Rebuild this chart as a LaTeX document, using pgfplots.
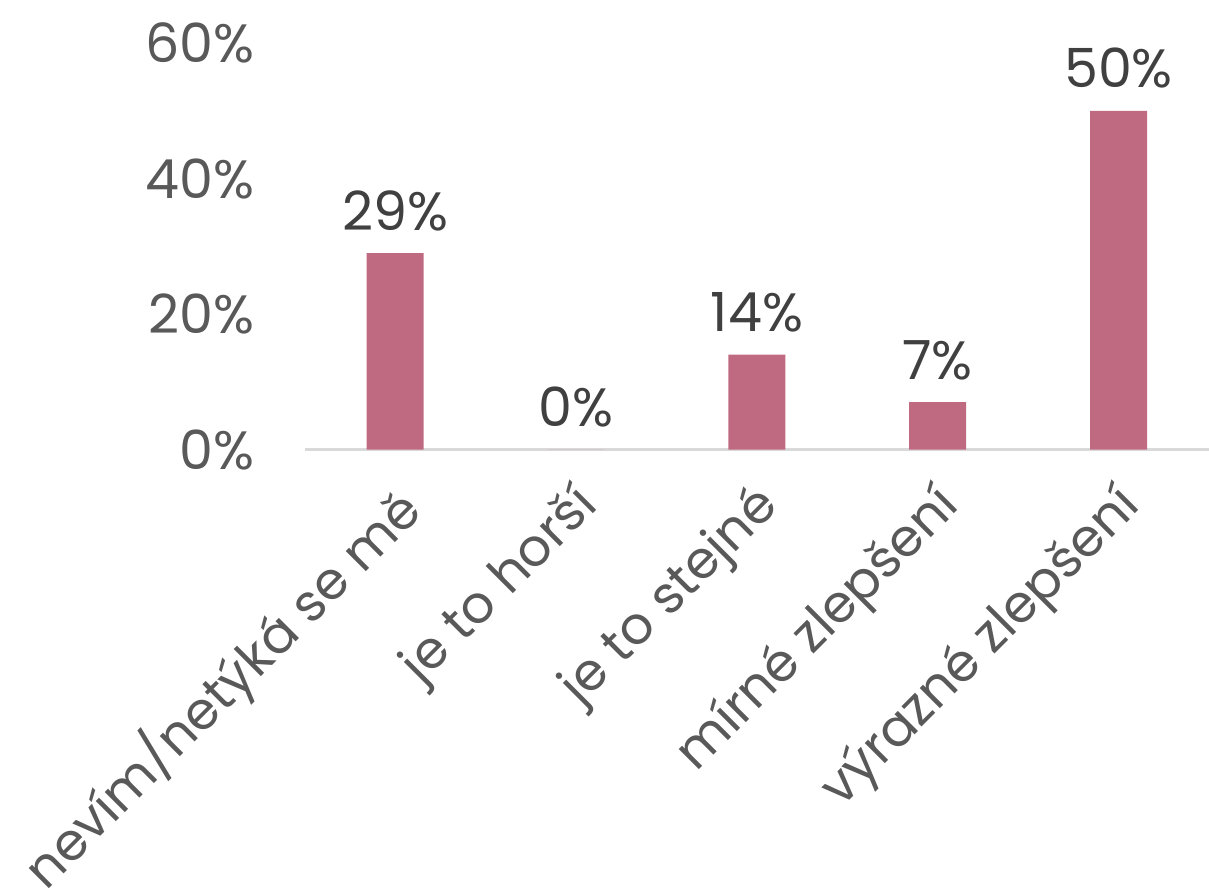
\documentclass[border=0pt]{standalone}
\usepackage{pgfplots}
\pgfplotsset{compat=1.18}
\usepackage{fontspec}
\setmainfont{Poppins}
\definecolor{barcol}{HTML}{C06A82}
\definecolor{ticktxt}{HTML}{595959}
\definecolor{valtxt}{HTML}{404040}
\definecolor{axline}{HTML}{D9D9D9}
\begin{document}
\begin{tikzpicture}
\begin{axis}[
    scale only axis,
    width=226.25pt, height=101.75pt,
    xmin=-0.5, xmax=4.5,
    ymin=0, ymax=60,
    axis x line*=bottom,
    axis y line*=left,
    y axis line style={draw=none},
    x axis line style={axline, line width=0.6pt},
    major tick length=0pt,
    xtick=data,
    xticklabels={nevím/netýká se mě, je to horší, je to stejné, mírné zlepšení, výrazné zlepšení},
    ytick={0,20,40,60},
    yticklabel={\pgfmathprintnumber{\tick}\%},
    font=\fontsize{13.5}{15}\selectfont,
    yticklabel style={text=ticktxt, anchor=east, xshift=-9pt},
    xticklabel style={text=ticktxt, font=\fontsize{13}{15}\selectfont, rotate=45, anchor=north east, inner sep=1pt, xshift=-5pt, yshift=-3pt},
    /pgf/number format/assume math mode=true,
    ybar, bar width=14.25pt,
    nodes near coords={\pgfmathprintnumber{\pgfplotspointmeta}\%},
    nodes near coords style={text=valtxt, font=\fontsize{13.5}{15}\selectfont, yshift=2pt},
    clip=false,
]
\addplot[fill=barcol, draw=none] coordinates {(0,29) (1,0) (2,14) (3,7) (4,50)};
\end{axis}
\pgfresetboundingbox
\useasboundingbox (-76.25pt,-111.25pt) rectangle (226.25pt,112.5pt);
\end{tikzpicture}
\end{document}
